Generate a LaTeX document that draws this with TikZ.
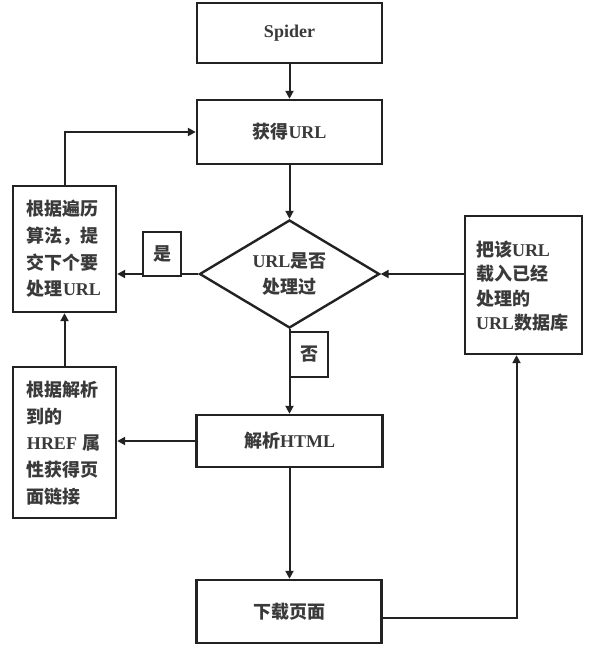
\documentclass[tikz,border=0pt]{standalone}
\usepackage{fontspec}
\setmainfont{Liberation Serif}
\newfontfamily\cjkfont{Noto Sans CJK SC}
\newcommand{\zh}[1]{{\cjkfont #1}}
\usetikzlibrary{shapes.geometric,arrows.meta,calc}
\definecolor{linec}{HTML}{222222}
\definecolor{textc}{HTML}{3A3A3A}
\begin{document}
\begin{tikzpicture}[x=1pt,y=-1pt,
  box/.style={draw=linec, line width=2.4pt, inner sep=0pt, text=textc,
    font=\fontsize{18}{26.7}\selectfont\bfseries},
  tbox/.style={inner sep=0pt, text=textc, align=left,
    font=\fontsize{18}{26.7}\selectfont\bfseries},
  conn/.style={draw=linec, line width=2pt, -{Triangle[length=8pt,width=8pt]}},
  plain/.style={draw=linec, line width=2pt}]
\useasboundingbox (0,0) rectangle (612,656);
\fill[white] (0,0) rectangle (612,656);

\node[box, minimum width=185pt, minimum height=60pt] (spider) at (289.5,33) {Spider};
\node[box, minimum width=185pt, minimum height=64pt] (geturl) at (289.5,132) {\zh{获得}URL};
\node[box, shape=diamond, aspect=1.667, minimum width=180pt, minimum height=108pt] (dec) at (289.5,274) {};
\node[tbox, align=center] (dectext) at (289.5,274) {URL\zh{是否}\\\zh{处理过}};
\node[box, minimum width=103pt, minimum height=126pt] (left1) at (64.5,249) {};
\node[tbox, text width=80pt] (left1t) at (67,249) {\zh{根据遍历}\\\zh{算法，提}\\\zh{交下个要}\\\zh{处理}URL};
\node[box, minimum width=103pt, minimum height=151pt] (left2) at (64.5,442.5) {};
\node[tbox, text width=80pt] (left2t) at (67,443) {\zh{根据解析}\\\zh{到的}\\HREF \zh{属}\\\zh{性获得页}\\\zh{面链接}};
\node[box, minimum width=186pt, minimum height=52pt] (html) at (289.5,441) {\zh{解析}HTML};
\node[box, minimum width=185pt, minimum height=63pt] (down) at (289,611.5) {\zh{下载页面}};
\node[box, minimum width=117pt, minimum height=138pt] (right) at (523.5,285) {};
\node[tbox, text width=95pt, font=\fontsize{18}{24.5}\selectfont\bfseries] (rightt) at (523.5,286) {\zh{把该}URL\\\zh{载入已经}\\\zh{处理的}\\URL\zh{数据库}};

\draw[conn] (spider) -- (geturl);
\draw[conn] (geturl) -- (dec.north);
\draw[conn] (dec.west) -- (dec.west -| left1.east);
\draw[conn] (left1.north) |- (geturl.west);
\draw[conn] (right.west |- dec.east) -- (dec.east);
\draw[conn] (dec.south) -- (html.north);
\draw[conn] (html.west) -- (left2.east |- html.west);
\draw[conn] (left2.north) -- (left1.south);
\draw[conn] (html.south) -- (html.south |- down.north);
\draw[conn] ($(down.east)+(0,6)$) -| ([xshift=-7pt]right.south);

\node[box, minimum width=38pt, minimum height=45pt, fill=white] (fou) at (309,354.5) {\zh{否}};
\node[box, minimum width=38pt, minimum height=44pt, fill=white] (shi) at (162,254) {\zh{是}};
\end{tikzpicture}
\end{document}
